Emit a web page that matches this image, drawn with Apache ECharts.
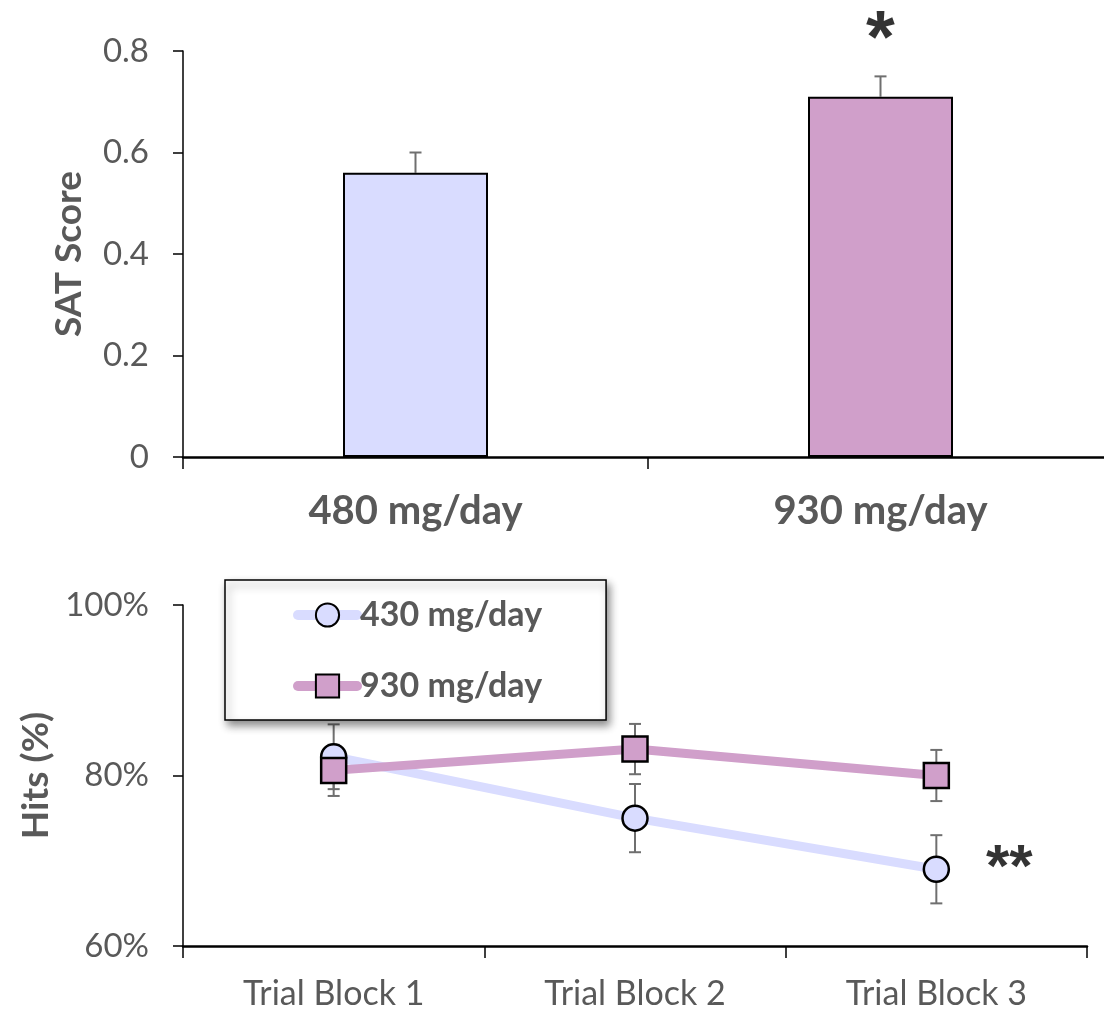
<!DOCTYPE html>
<html>
<head>
<meta charset="utf-8">
<script src="https://cdn.jsdelivr.net/npm/echarts@6/dist/echarts.min.js"></script>
<style>
html,body{margin:0;padding:0;background:#fff;}
#chart{width:1104px;height:1009px;}
</style>
</head>
<body>
<div id="chart"></div>
<script>
// ---- Top chart data ----
const doseCategories = ['480 mg/day', '930 mg/day'];
const satScore = [0.56, 0.71];
const satErr = [0.04, 0.04];
const satTicks = [0, 0.2, 0.4, 0.6, 0.8];
const satStars = ['', '*'];
const satStarY = [null, 0.818];

// ---- Bottom chart data ----
const blocks = ['Trial Block 1', 'Trial Block 2', 'Trial Block 3'];
const hits430 = [82.2, 75.0, 69.0];
const err430 = [3.8, 4.0, 4.0];
const hits930 = [80.6, 83.1, 80.0];
const err930 = [3.0, 2.95, 3.0];
const hitsTicks = [60, 80, 100];
const hitsStars = ['', '', '**'];

const FONT = 'Lato, "Noto Sans", sans-serif';
const STARFONT = '"Liberation Sans", Arial, sans-serif';
const GREY = '#595959';
const barColors = ['#D9DCFF', '#D09FCA'];
const c430 = '#D9DCFF';
const c930 = '#D09FCA';

function errRender(showLow) {
  return function (params, api) {
    const x = api.value(0), lo = api.value(1), hi = api.value(2);
    const pHi = api.coord([x, hi]);
    const pLo = api.coord([x, lo]);
    const hw = 6;
    const st = { stroke: '#6f6f6f', lineWidth: 2 };
    const ch = [
      { type: 'line', shape: { x1: pHi[0], y1: pHi[1], x2: pLo[0], y2: pLo[1] }, style: st },
      { type: 'line', shape: { x1: pHi[0] - hw, y1: pHi[1], x2: pHi[0] + hw, y2: pHi[1] }, style: st }
    ];
    if (showLow) ch.push({ type: 'line', shape: { x1: pLo[0] - hw, y1: pLo[1], x2: pLo[0] + hw, y2: pLo[1] }, style: st });
    return { type: 'group', children: ch };
  };
}

const satErrData = satScore.map((v, i) => [i, v, v + satErr[i]]);
const err430Data = hits430.map((v, i) => [i, v - err430[i], v + err430[i]]);
const err930Data = hits930.map((v, i) => [i, v - err930[i], v + err930[i]]);

const chart = echarts.init(document.getElementById('chart'), null, { renderer: 'canvas' });
chart.setOption({
  animation: false,
  backgroundColor: '#fff',
  textStyle: { fontFamily: FONT },
  grid: [
    { left: 183, top: 51, width: 930, height: 406, containLabel: false, outerBoundsMode: 'none' },
    { left: 183, top: 605, width: 904, height: 341, containLabel: false, outerBoundsMode: 'none' }
  ],
  legend: {
    left: 225, top: 580,
    orient: 'vertical',
    data: ['430 mg/day', '930 mg/day'],
    itemWidth: 59, itemHeight: 29, itemGap: 37,
    padding: [18, 64, 17, 68],
    backgroundColor: '#fff',
    borderColor: '#000', borderWidth: 1.5,
    shadowColor: 'rgba(0,0,0,0.45)', shadowBlur: 8, shadowOffsetX: 3, shadowOffsetY: 5,
    textStyle: { fontFamily: FONT, fontSize: 34, fontWeight: 'bold', color: GREY, padding: [0, 0, 0, -2] },
    lineStyle: { width: 10, cap: 'round' }
  },
  xAxis: [
    {
      gridIndex: 0, type: 'category', data: doseCategories,
      axisLine: { lineStyle: { color: '#000', width: 2.5 } },
      axisTick: { show: true, length: 12, lineStyle: { color: '#000', width: 1.5 } },
      axisLabel: { fontFamily: FONT, fontSize: 40, fontWeight: 'bold', color: GREY, margin: 34 }
    },
    {
      gridIndex: 1, type: 'category', data: blocks,
      axisLine: { lineStyle: { color: '#000', width: 2.5 } },
      axisTick: { show: true, length: 12, lineStyle: { color: '#000', width: 1.5 } },
      axisLabel: { fontFamily: FONT, fontSize: 34, color: GREY, margin: 31 }
    }
  ],
  yAxis: [
    {
      gridIndex: 0, type: 'value',
      min: satTicks[0], max: satTicks[satTicks.length - 1], interval: satTicks[1] - satTicks[0],
      name: 'SAT Score', nameLocation: 'middle', nameGap: 95,
      nameTextStyle: { fontFamily: FONT, fontSize: 37, fontWeight: 'bold', color: GREY },
      axisLine: { show: true, lineStyle: { color: '#000', width: 1.5 } },
      axisTick: { show: true, length: 10, lineStyle: { color: '#000', width: 1.5 } },
      splitLine: { show: false },
      axisLabel: { fontFamily: FONT, fontSize: 33, color: GREY, margin: 34,
        formatter: v => (v === 0 ? '0' : v.toFixed(1)) }
    },
    {
      gridIndex: 1, type: 'value',
      min: hitsTicks[0], max: hitsTicks[hitsTicks.length - 1], interval: hitsTicks[1] - hitsTicks[0],
      name: 'Hits (%)', nameLocation: 'middle', nameGap: 128,
      nameTextStyle: { fontFamily: FONT, fontSize: 37, fontWeight: 'bold', color: GREY },
      axisLine: { show: true, lineStyle: { color: '#000', width: 1.5 } },
      axisTick: { show: true, length: 10, lineStyle: { color: '#000', width: 1.5 } },
      splitLine: { show: false },
      axisLabel: { fontFamily: FONT, fontSize: 33, color: GREY, margin: 34, formatter: '{value}%' }
    }
  ],
  series: [
    {
      type: 'custom', xAxisIndex: 0, yAxisIndex: 0, z: 1,
      renderItem: errRender(false), data: satErrData, silent: true
    },
    {
      type: 'bar', xAxisIndex: 0, yAxisIndex: 0, barWidth: 145, z: 2,
      data: satScore.map((v, i) => ({ value: v, itemStyle: { color: barColors[i] } })),
      itemStyle: { borderColor: '#000', borderWidth: 2 }
    },
    {
      type: 'scatter', xAxisIndex: 0, yAxisIndex: 0, symbolSize: 0, clip: false, silent: true,
      data: satStarY.map((v, i) => [i, v]),
      label: { show: true, position: 'inside', formatter: p => satStars[p.dataIndex],
        fontFamily: STARFONT, fontSize: 74, fontWeight: 'bold', color: '#000' }
    },
    {
      type: 'custom', xAxisIndex: 1, yAxisIndex: 1, z: 1,
      renderItem: errRender(true), data: err430Data, silent: true
    },
    {
      type: 'custom', xAxisIndex: 1, yAxisIndex: 1, z: 1,
      renderItem: errRender(true), data: err930Data, silent: true
    },
    {
      name: '430 mg/day', type: 'line', xAxisIndex: 1, yAxisIndex: 1, z: 3,
      data: hits430, symbol: 'circle', symbolSize: 25,
      lineStyle: { color: c430, width: 9, cap: 'round' },
      itemStyle: { color: c430, borderColor: '#000', borderWidth: 2.5 }
    },
    {
      name: '930 mg/day', type: 'line', xAxisIndex: 1, yAxisIndex: 1, z: 4,
      data: hits930, symbol: 'rect', symbolSize: 25,
      lineStyle: { color: c930, width: 9, cap: 'round' },
      itemStyle: { color: c930, borderColor: '#000', borderWidth: 2.5 }
    },
    {
      type: 'scatter', xAxisIndex: 1, yAxisIndex: 1, symbolSize: 0, clip: false, silent: true,
      data: hits430.map((v, i) => [i, v]),
      label: { show: true, position: 'inside', offset: [73, 0], formatter: p => hitsStars[p.dataIndex],
        fontFamily: STARFONT, fontSize: 60, fontWeight: 'bold', color: '#000' }
    }
  ]
});
</script>
</body>
</html>
